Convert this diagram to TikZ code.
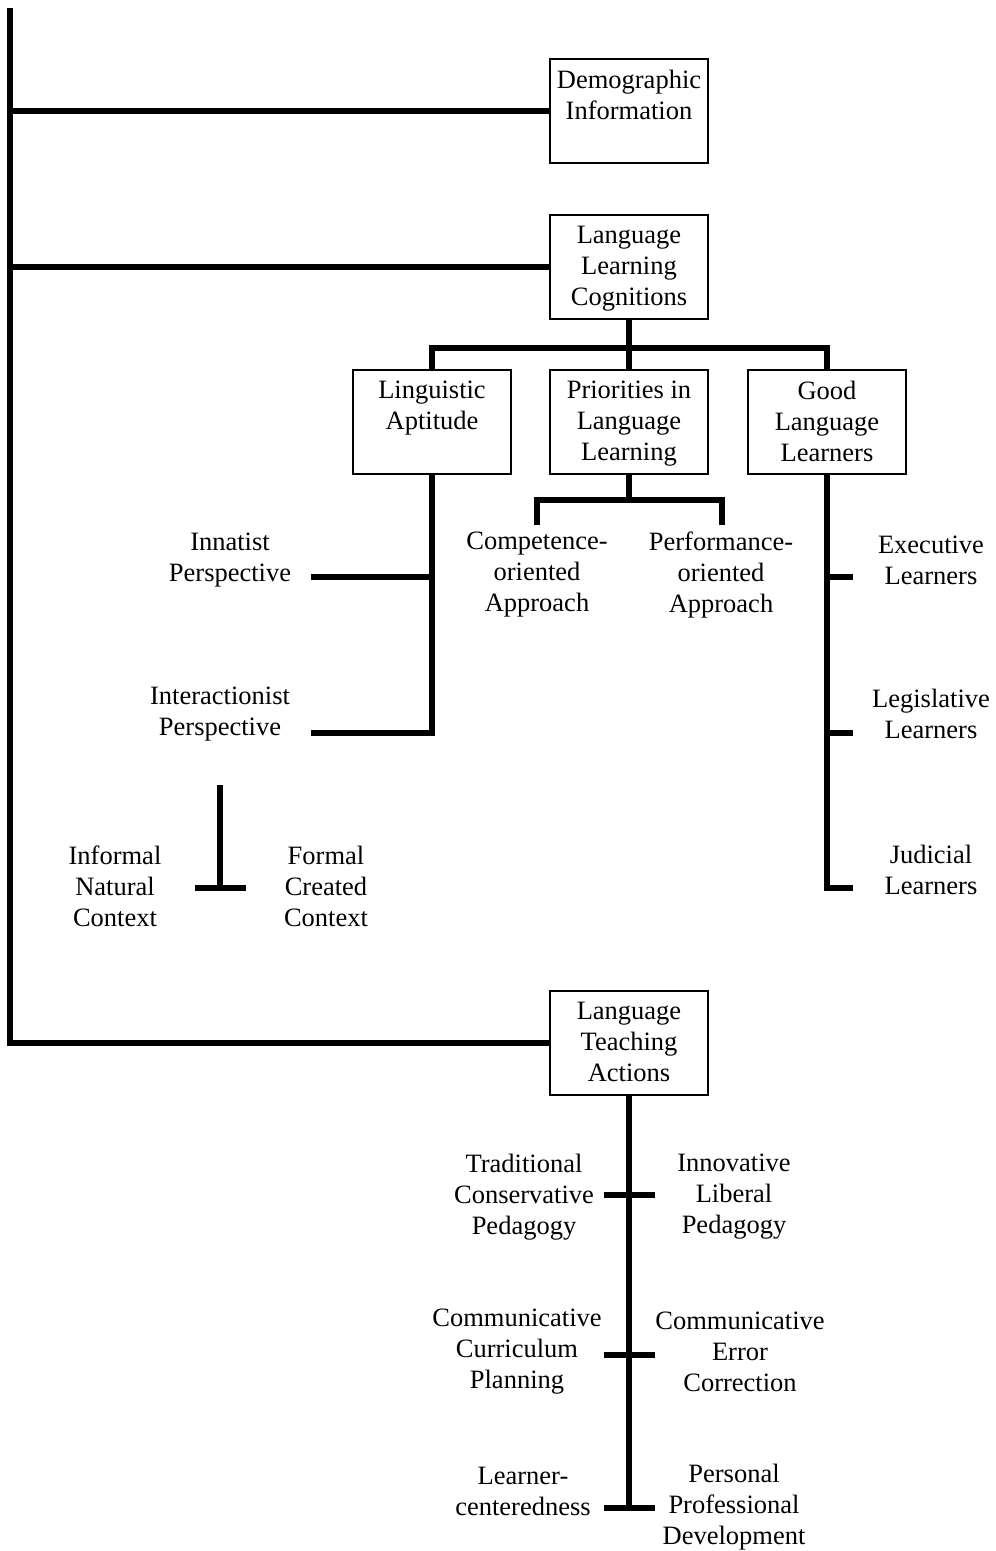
\documentclass[tikz,border=0pt]{standalone}
\usepackage{fontspec}
\setmainfont{Liberation Serif}
\usetikzlibrary{positioning,calc}
\newcommand{\bx}[1]{\parbox[t][41pt][t]{75pt}{\centering #1}}
\tikzset{
  box/.style ={draw=black, line width=1pt, fill=white, inner xsep=2pt, inner ysep=5.5pt},
  ln/.style  ={draw=black, line width=3pt},
  lbl/.style ={align=center, inner sep=0pt},
}
\begin{document}
\begin{tikzpicture}[x=0.5pt,y=-0.5pt,font=\fontsize{13.25}{15.5}\selectfont]
    \useasboundingbox (0,0) rectangle (995,1551);

    % main boxes
    \node[box] (demo) at (629,111)  {\bx{Demographic\\Information}};
    \node[box] (llc)  at (629,267)  {\bx{Language\\Learning\\Cognitions}};
    \node[box] (la)   at (432,422)  {\bx{Linguistic\\Aptitude}};
    \node[box] (pr)   at (629,422)  {\bx{Priorities in\\Language\\Learning}};
    \node[box] (gll)  at (827,422)  {\bx{Good\\Language\\Learners}};
    \node[box] (lta)  at (629,1043) {\bx{Language\\Teaching\\Actions}};

    % free labels
    \node[lbl] (inn)   at (230,560)  {Innatist\\Perspective};
    \node[lbl] (inter) at (220,714)  {Interactionist\\Perspective};
    \node[lbl] (comp)  at (537,575)  {Competence-\\oriented\\Approach};
    \node[lbl] (perf)  at (721,575)  {Performance-\\oriented\\Approach};
    \node[lbl] (exe)   at (931,560)  {Executive\\Learners};
    \node[lbl] (leg)   at (931,714)  {Legislative\\Learners};
    \node[lbl] (jud)   at (931,870)  {Judicial\\Learners};
    \node[lbl] (infm)  at (115,886)  {Informal\\Natural\\Context};
    \node[lbl] (form)  at (326,886)  {Formal\\Created\\Context};
    \node[lbl] (trad)  at (524,1197) {Traditional\\Conservative\\Pedagogy};
    \node[lbl] (inno)  at (734,1197) {Innovative\\Liberal\\Pedagogy};
    \node[lbl] (ccp)   at (517,1352) {Communicative\\Curriculum\\Planning};
    \node[lbl] (cec)   at (740,1352) {Communicative\\Error\\Correction};
    \node[lbl] (lrn)   at (523,1491) {Learner-\\centeredness};
    \node[lbl] (ppd)   at (734,1507) {Personal\\Professional\\Development};

    % free ends
    \coordinate (top)    at (10,8);
    \coordinate (llcbar) at (629,348);
    \coordinate (prbar)  at (629,500);
    \coordinate (compT)  at (537,525);
    \coordinate (perfT)  at (722,525);
    \coordinate (innT)   at (311,577);
    \coordinate (intT)   at (311,733);
    \coordinate (exeT)   at (853,577);
    \coordinate (legT)   at (853,733);
    \coordinate (judT)   at (853,888);
    \coordinate (ctxT)   at (220,785);
    \coordinate (ctxL)   at (195,888);
    \coordinate (ctxR)   at (246,888);
    \coordinate (tradT)  at (604,1195);
    \coordinate (innoT)  at (655,1195);
    \coordinate (ccpT)   at (604,1355);
    \coordinate (cecT)   at (655,1355);
    \coordinate (lrnT)   at (604,1508);
    \coordinate (ppdT)   at (655,1508);

    % trunk
    \draw[ln] (top) |- (lta.west);
    \draw[ln] (top |- demo.west) -- (demo.west);
    \draw[ln] (top |- llc.west) -- (llc.west);

    % cognitions
    \draw[ln] (llc.south) -- (pr.north);
    \draw[ln] (la.north) |- (llcbar) -| (gll.north);
    \draw[ln] (la.south) |- (intT);
    \draw[ln] (innT) -- (la.south |- innT);
    \draw[ln] (pr.south) -- (prbar);
    \draw[ln] (compT) |- (prbar) -| (perfT);
    \draw[ln] (gll.south) |- (judT);
    \draw[ln] (gll.south |- exeT) -- (exeT);
    \draw[ln] (gll.south |- legT) -- (legT);
    \draw[ln] (ctxT) -- (ctxT |- ctxL);
    \draw[ln] (ctxL) -- (ctxR);

    % teaching actions
    \draw[ln] (lta.south) -- (lta.south |- lrnT);
    \draw[ln] (tradT) -- (innoT);
    \draw[ln] (ccpT) -- (cecT);
    \draw[ln] (lrnT) -- (ppdT);
\end{tikzpicture}
\end{document}
